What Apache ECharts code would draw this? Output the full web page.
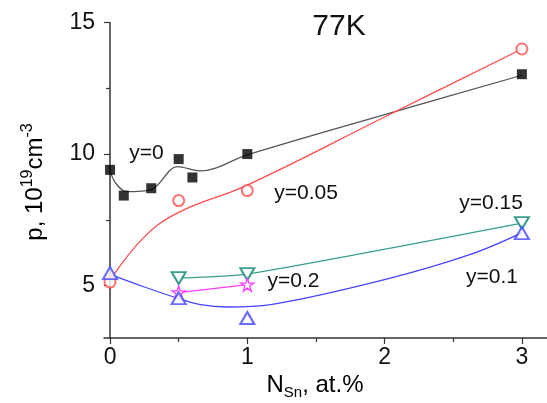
<!DOCTYPE html>
<html>
<head>
<meta charset="utf-8">
<script src="https://cdn.jsdelivr.net/npm/echarts@6/dist/echarts.min.js"></script>
<style>
  html,body{margin:0;padding:0;background:#fff;}
  #chart{width:547px;height:403px;}
</style>
</head>
<body>
<div id="chart"></div>
<script>
// axis ticks
const xTicks=[0,1,2,3];
const xMinor=[0.5,1.5,2.5];
const yTicks=[5,10,15];
const yMinor=[7.5,12.5];

// measured points [N_Sn, p]
const y0Points=[[0,9.4],[0.1,8.42],[0.3,8.7],[0.5,9.81],[0.6,9.11],[1,10.0],[3,13.04]];
const y005Points=[[0,5.13],[0.5,8.23],[1,8.61],[3,14.0]];
const y01Points=[[0,5.47],[0.5,4.52],[1,3.76],[3,6.99]];
const y015Points=[[0.5,5.28],[1,5.43],[3,7.37]];
const y02Points=[[0.5,4.73],[1,5.03]];

// fitted curves
const y0Fit=[[0,9.38],[0.04,8.9],[0.12,8.57],[0.3,8.65],[0.49,9.52],[0.66,9.36],[1,9.97],[2,11.5],[3,13.0]];
const y005Fit=[[0,5.2],[0.25,6.85],[0.5,7.78],[1,8.82],[2,11.41],[3,14.0]];
const y01Fit=[[0,5.42],[0.24,4.96],[0.5,4.5],[0.66,4.27],[0.85,4.18],[1.17,4.27],[2,5.22],[2.62,6.17],[3,7.0]];

const starPath='path://M50,2 L61,36 L97,36 L68,57 L79,92 L50,71 L21,92 L32,57 L3,36 L39,36 Z';

const chart=echarts.init(document.getElementById('chart'));

const axisColor='#333';
const font='Liberation Sans, Arial, sans-serif';

const option={
    animation:false,
    backgroundColor:'#fff',
    grid:{left:104,top:22.7,right:0,bottom:65},
    xAxis:[{
        type:'value',
        min:-0.044,
        max:3.183,
        axisLine:{show:true,lineStyle:{color:axisColor,width:1.5}},
        axisTick:{show:true,length:6,customValues:xTicks,lineStyle:{color:axisColor,width:1.2}},
        axisLabel:{customValues:xTicks,fontSize:23,color:'#111',fontFamily:font,margin:8},
        splitLine:{show:false}
    },{
        type:'value',
        min:-0.044,
        max:3.183,
        position:'bottom',
        offset:0,
        axisLine:{show:false},
        axisTick:{show:true,length:4,customValues:xMinor,lineStyle:{color:axisColor,width:1.2}},
        axisLabel:{show:false},
        splitLine:{show:false}
    }],
    yAxis:[{
        type:'value',
        min:3,
        max:15,
        axisLine:{show:true,lineStyle:{color:axisColor,width:1.5}},
        axisTick:{show:true,length:6,customValues:yTicks,lineStyle:{color:axisColor,width:1.2}},
        axisLabel:{customValues:yTicks,fontSize:23,color:'#111',fontFamily:font,margin:9},
        splitLine:{show:false}
    },{
        type:'value',
        min:3,
        max:15,
        position:'left',
        offset:0,
        axisLine:{show:false},
        axisTick:{show:true,length:4,customValues:yMinor,lineStyle:{color:axisColor,width:1.2}},
        axisLabel:{show:false},
        splitLine:{show:false}
    }],
    graphic:[
        {type:'text',x:339,y:27,style:{text:'77K',font:'30px '+font,fill:'#111',align:'center',verticalAlign:'middle'}},
        {type:'text',x:146.5,y:153,style:{text:'y=0',font:'21px '+font,fill:'#111',align:'center',verticalAlign:'middle'}},
        {type:'text',x:306,y:193,style:{text:'y=0.05',font:'21px '+font,fill:'#111',align:'center',verticalAlign:'middle'}},
        {type:'text',x:491,y:203,style:{text:'y=0.15',font:'21px '+font,fill:'#111',align:'center',verticalAlign:'middle'}},
        {type:'text',x:293.5,y:281,style:{text:'y=0.2',font:'21px '+font,fill:'#111',align:'center',verticalAlign:'middle'}},
        {type:'text',x:492,y:277,style:{text:'y=0.1',font:'21px '+font,fill:'#111',align:'center',verticalAlign:'middle'}},
        {type:'text',x:315,y:385,style:{
            text:'{a|N}{b|Sn}{a|, at.%}',
            align:'center',verticalAlign:'middle',
            rich:{
                a:{fontSize:24,fontFamily:font,color:'#111',lineHeight:30,verticalAlign:'middle'},
                b:{fontSize:15,fontFamily:font,color:'#111',lineHeight:15,verticalAlign:'bottom'}
            }
        }},
        {type:'text',x:35,y:182,rotation:Math.PI/2,style:{
            text:'{a|p, 10}{b|19}{a|cm}{b|-3}',
            align:'center',verticalAlign:'middle',
            rich:{
                a:{fontSize:24,fontFamily:font,color:'#111',lineHeight:30,verticalAlign:'middle'},
                b:{fontSize:16,fontFamily:font,color:'#111',lineHeight:16,verticalAlign:'top'}
            }
        }}
    ],
    series:[
        {type:'line',data:y0Fit,smooth:0.35,showSymbol:false,lineStyle:{color:'#555',width:1.3},z:2},
        {type:'scatter',data:y0Points,symbol:'rect',symbolSize:10,itemStyle:{color:'#000'},z:5},

        {type:'line',data:y005Fit,smooth:0.4,showSymbol:false,lineStyle:{color:'#ff4d4d',width:1.3},z:2},
        {type:'scatter',data:y005Points,symbol:'emptyCircle',symbolSize:11,itemStyle:{color:'#ff4d4d',borderWidth:1.3},z:5},

        {type:'line',data:y015Points,smooth:0.2,symbol:'emptyTriangle',symbolRotate:180,symbolSize:[14,12],
            lineStyle:{color:'#3a9e8e',width:1.3},itemStyle:{color:'#3a9e8e',borderWidth:1.3},z:4},

        {type:'line',data:y02Points,symbol:starPath,symbolSize:13,
            lineStyle:{color:'#ff3cff',width:1.3},itemStyle:{color:'#fff',borderColor:'#ff3cff',borderWidth:1.3},z:4},

        {type:'line',data:y01Fit,smooth:0.35,showSymbol:false,lineStyle:{color:'#4545ff',width:1.3},z:2},
        {type:'scatter',data:y01Points,symbol:'emptyTriangle',symbolSize:[14,12],itemStyle:{color:'#4545ff',borderWidth:1.3},z:5}
    ]
};

chart.setOption(option);
</script>
</body>
</html>
